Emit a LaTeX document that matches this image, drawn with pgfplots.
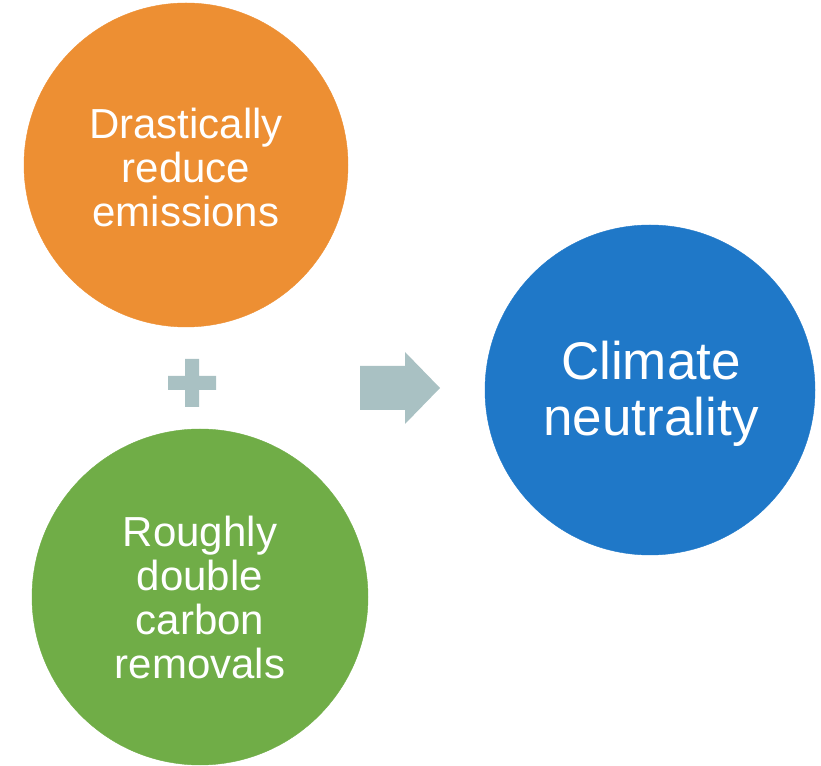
\documentclass[border=0pt]{standalone}
\usepackage{pgfplots}
\pgfplotsset{compat=1.18}
\usepackage{fontspec}
\setmainfont{Liberation Sans}
\definecolor{corange}{HTML}{ED8F33}
\definecolor{cgreen}{HTML}{70AD47}
\definecolor{cblue}{HTML}{1F78C8}
\definecolor{cgrey}{HTML}{A9C1C3}
\begin{document}
\begin{tikzpicture}
\begin{axis}[
  width=821pt, height=765pt, scale only axis,
  xmin=0, xmax=821, ymin=0, ymax=765, y dir=reverse,
  hide axis, clip=false, set layers]
\path[use as bounding box] (rel axis cs:0,0) rectangle (rel axis cs:1,1);
\addplot[only marks, mark=*, mark size=162pt, color=corange, mark options={draw=none, fill=corange}] coordinates {(186,165)};
\addplot[only marks, mark=*, mark size=168pt, color=cgreen, mark options={draw=none, fill=cgreen}] coordinates {(200,597)};
\addplot[only marks, mark=*, mark size=165pt, color=cblue, mark options={draw=none, fill=cblue}] coordinates {(650,390)};
% plus sign
\addplot[fill=cgrey, draw=none] coordinates {(185,359) (199,359) (199,376) (216,376) (216,390) (199,390) (199,407) (185,407) (185,390) (168,390) (168,376) (185,376)} -- cycle;
% arrow
\addplot[fill=cgrey, draw=none] coordinates {(360,366) (405,366) (405,352) (440,388) (405,424) (405,410) (360,410)} -- cycle;
\begin{pgfonlayer}{axis foreground}
\node[text=white, align=center, font=\fontsize{42}{44}\selectfont] at (axis cs:186,167) {Drastically\\reduce\\emissions};
\node[text=white, align=center, font=\fontsize{42}{44}\selectfont] at (axis cs:200,597) {Roughly\\double\\carbon\\removals};
\node[text=white, align=center, font=\fontsize{53}{56}\selectfont] at (axis cs:651,394) {Climate\\neutrality};
\end{pgfonlayer}
\end{axis}
\end{tikzpicture}
\end{document}
